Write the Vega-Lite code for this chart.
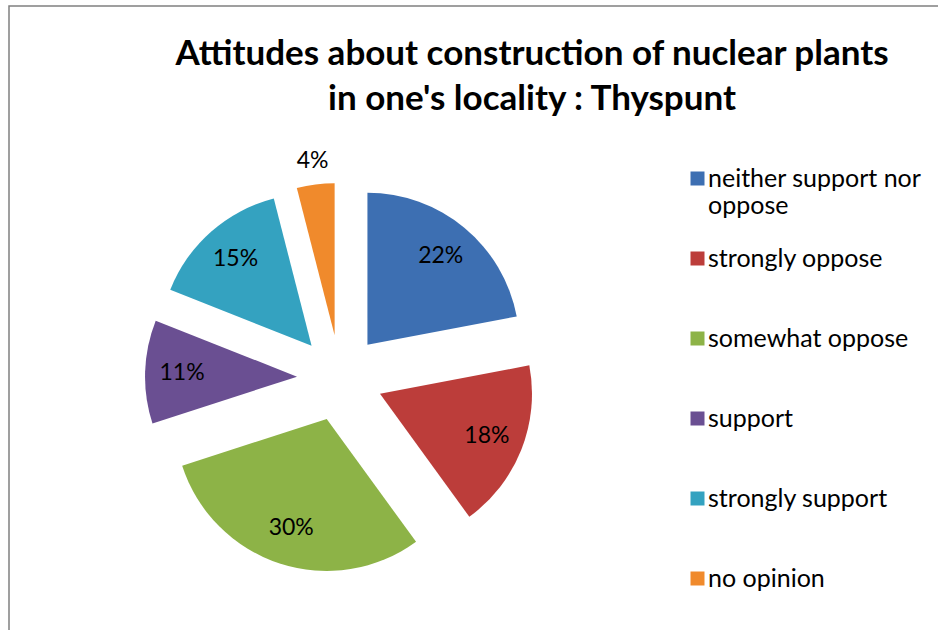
{
  "$schema": "https://vega.github.io/schema/vega-lite/v6.json",
  "width": 930,
  "height": 625,
  "autosize": {"type": "none"},
  "padding": {"left": 9, "top": 6, "right": 0, "bottom": 0},
  "background": "white",
  "config": {
    "view": {"stroke": "#808080", "strokeWidth": 1.5},
    "font": "Lato"
  },
  "title": {
    "text": ["Attitudes about construction of nuclear plants", "in one's locality : Thyspunt"],
    "font": "Lato",
    "fontSize": 35,
    "fontWeight": "bold",
    "color": "black",
    "anchor": "middle",
    "frame": "group",
    "dx": 58,
    "offset": -111,
    "baseline": "top",
    "lineHeight": 45
  },
  "data": {
    "values": [
      {"category": "neither support nor oppose", "value": 0.22, "order": 1},
      {"category": "strongly oppose", "value": 0.18, "order": 2},
      {"category": "somewhat oppose", "value": 0.30, "order": 3},
      {"category": "support", "value": 0.11, "order": 4},
      {"category": "strongly support", "value": 0.15, "order": 5},
      {"category": "no opinion", "value": 0.04, "order": 6}
    ]
  },
  "transform": [
    {"window": [{"op": "sum", "field": "value", "as": "cum"}], "sort": [{"field": "order"}], "frame": [null, 0]},
    {"calculate": "datum.cum - datum.value", "as": "start"},
    {"calculate": "datum.cum - datum.value / 2", "as": "mid"},
    {"calculate": "sin(datum.mid * 2 * PI)", "as": "ex"},
    {"calculate": "cos(datum.mid * 2 * PI)", "as": "ey"}
  ],
  "encoding": {
    "x": {"field": "ex", "type": "quantitative", "scale": {"domain": [-7.698, 13.93], "nice": false, "zero": false}, "axis": null},
    "y": {"field": "ey", "type": "quantitative", "scale": {"domain": [-5.884, 8.651], "nice": false, "zero": false}, "axis": null}
  },
  "layer": [
    {
      "mark": {"type": "arc", "radius": 152, "stroke": null},
      "encoding": {
        "theta": {"field": "start", "type": "quantitative", "stack": null, "scale": {"domain": [0, 1], "range": [0, 6.283185307]}},
        "theta2": {"field": "cum"},
        "color": {
          "field": "category",
          "type": "nominal",
          "scale": {
            "domain": ["neither support nor oppose", "strongly oppose", "somewhat oppose", "support", "strongly support", "no opinion"],
            "range": ["#3D6FB2", "#BC3D3A", "#8DB347", "#6A4F92", "#34A2C0", "#F08A2C"]
          },
          "legend": {
            "title": null,
            "orient": "none",
            "legendX": 676,
            "legendY": 160,
            "padding": 0,
            "symbolType": "square",
            "symbolSize": 196,
            "symbolStrokeWidth": 0,
            "symbolOpacity": 1,
            "labelFont": "Lato",
            "labelFontSize": 25,
            "labelColor": "black",
            "labelOffset": -2,
            "labelLimit": 400,
            "labelBaseline": "middle",
            "rowPadding": 27,
            "gridAlign": "all",
            "labelExpr": "datum.label == 'neither support nor oppose' ? ['neither support nor', 'oppose'] : datum.label"
          }
        }
      }
    },
    {
      "transform": [{"filter": "datum.value >= 0.05"}],
      "mark": {"type": "text", "radius": 115, "font": "Lato", "fontSize": 23, "color": "black"},
      "encoding": {
        "theta": {"field": "mid", "type": "quantitative", "stack": null, "scale": {"domain": [0, 1], "range": [0, 6.283185307]}},
        "text": {"field": "value", "type": "quantitative", "format": ".0%"}
      }
    },
    {
      "transform": [{"filter": "datum.value < 0.05"}],
      "mark": {"type": "text", "radius": 176, "font": "Lato", "fontSize": 23, "color": "black"},
      "encoding": {
        "theta": {"field": "mid", "type": "quantitative", "stack": null, "scale": {"domain": [0, 1], "range": [0, 6.283185307]}},
        "text": {"field": "value", "type": "quantitative", "format": ".0%"}
      }
    }
  ]
}
